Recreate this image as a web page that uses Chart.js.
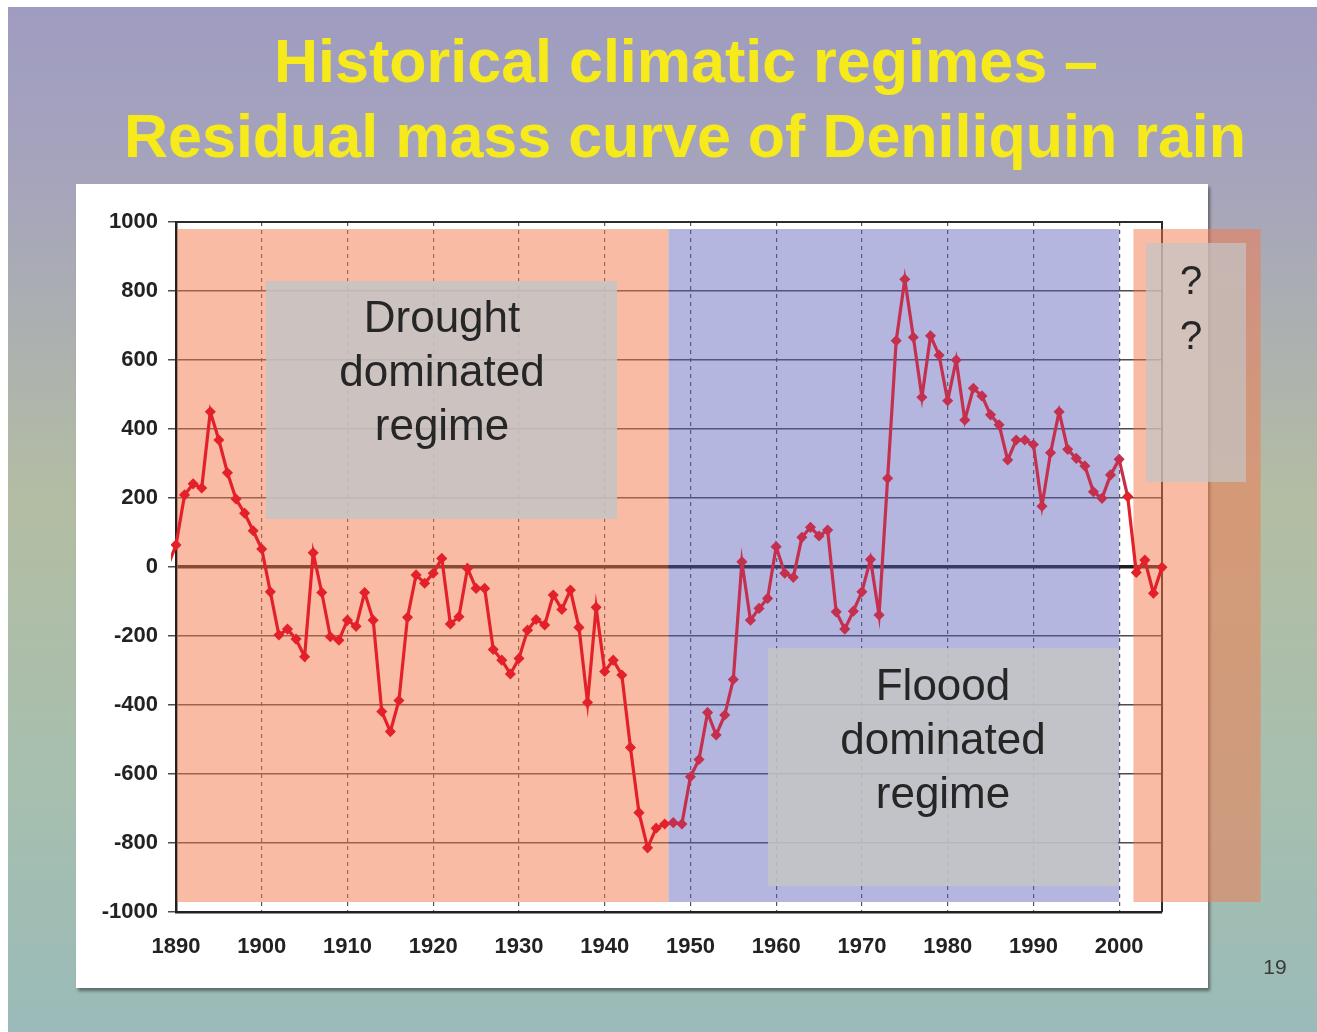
<!DOCTYPE html>
<html>
<head>
<meta charset="utf-8">
<script src="https://cdn.jsdelivr.net/npm/chart.js@4.4.1/dist/chart.umd.min.js"></script>
<style>
  html, body { margin: 0; padding: 0; background: #fff; overflow: hidden; }
  #wrap { width: 1317px; height: 1032px; position: relative; }
  canvas { display: block; }
</style>
</head>
<body>
<div id="wrap"><canvas id="chart" width="1317" height="1032"></canvas></div>
<script>
// Residual mass curve of annual rainfall at Deniliquin (cumulative departure from mean, mm)
const years = [
  1889, 1890, 1891, 1892, 1893, 1894, 1895, 1896, 1897, 1898, 1899,
  1900, 1901, 1902, 1903, 1904, 1905, 1906, 1907, 1908, 1909,
  1910, 1911, 1912, 1913, 1914, 1915, 1916, 1917, 1918, 1919,
  1920, 1921, 1922, 1923, 1924, 1925, 1926, 1927, 1928, 1929,
  1930, 1931, 1932, 1933, 1934, 1935, 1936, 1937, 1938, 1939,
  1940, 1941, 1942, 1943, 1944, 1945, 1946, 1947, 1948, 1949,
  1950, 1951, 1952, 1953, 1954, 1955, 1956, 1957, 1958, 1959,
  1960, 1961, 1962, 1963, 1964, 1965, 1966, 1967, 1968, 1969,
  1970, 1971, 1972, 1973, 1974, 1975, 1976, 1977, 1978, 1979,
  1980, 1981, 1982, 1983, 1984, 1985, 1986, 1987, 1988, 1989,
  1990, 1991, 1992, 1993, 1994, 1995, 1996, 1997, 1998, 1999,
  2000, 2001, 2002, 2003, 2004, 2005
];
const residual = [
  0, 64, 209, 241, 229, 450, 368, 273, 197, 156, 105,
  52, -72, -197, -180, -209, -260, 41, -74, -202, -212,
  -154, -172, -74, -154, -419, -477, -387, -146, -23, -47,
  -18, 25, -165, -144, -4, -62, -62, -239, -270, -310,
  -265, -183, -152, -168, -81, -123, -67, -175, -393, -117,
  -303, -270, -313, -523, -712, -814, -757, -745, -741, -745,
  -608, -558, -422, -487, -429, -326, 15, -154, -120, -91,
  59, -18, -30, 86, 115, 90, 107, -130, -180, -128,
  -72, 22, -139, 257, 656, 834, 666, 492, 670, 614,
  482, 600, 426, 518, 496, 441, 412, 310, 368, 368,
  355, 176, 331, 450, 341, 315, 293, 218, 199, 267,
  312, 204, -16, 20, -76, -1
];
const tickYears = [1890, 1900, 1910, 1920, 1930, 1940, 1950, 1960, 1970, 1980, 1990, 2000];
const titleLines = ['Historical climatic regimes \u2013', 'Residual mass curve of Deniliquin rain'];
const droughtLabel = ['Drought', 'dominated', 'regime'];
const floodLabel = ['Floood', 'dominated', 'regime'];
const unknownLabel = ['?', '?'];
const pageNumber = '19';

// regime periods shaded across the plot (years)
const droughtPeriods = [[1890, 1947.45], [2001.55, 2016.5]];
const floodPeriods = [[1947.45, 2000]];

const W = 1317, H = 1032;
const SANS = '"Liberation Sans", Arial, Helvetica, sans-serif';

const inFlood = x => x >= 1947.45 && x <= 2000.5;
const LINE_RED = '#e3212b';
const LINE_DARK = '#c4304e';

const slidePlugin = {
  id: 'slide',
  beforeDraw(chart) {
    const ctx = chart.ctx;
    ctx.save();
    ctx.fillStyle = '#ffffff';
    ctx.fillRect(0, 0, W, H);
    const g = ctx.createLinearGradient(0, 7, 0, H);
    g.addColorStop(0, '#9f9cc1');
    g.addColorStop(0.18, '#a6a5bb');
    g.addColorStop(0.48, '#b3bda3');
    g.addColorStop(0.75, '#a7bfae');
    g.addColorStop(1, '#9abbb9');
    ctx.fillStyle = g;
    ctx.fillRect(8, 7, W - 8, H - 7);

    // white chart panel with a soft drop shadow
    ctx.shadowColor = 'rgba(40,40,40,0.55)';
    ctx.shadowOffsetX = 2;
    ctx.shadowOffsetY = 3;
    ctx.shadowBlur = 3;
    ctx.fillStyle = '#ffffff';
    ctx.fillRect(76, 184, 1132, 804);
    ctx.restore();

    // slide title
    ctx.save();
    ctx.fillStyle = '#f6ea1a';
    ctx.font = 'bold 61px ' + SANS;
    ctx.textAlign = 'center';
    ctx.textBaseline = 'alphabetic';
    ctx.fillText(titleLines[0], 686, 82);
    ctx.fillText(titleLines[1], 685, 157);
    ctx.restore();
  },
  beforeDatasetsDraw(chart) {
    const ctx = chart.ctx;
    const a = chart.chartArea;
    const xs = chart.scales.x;
    ctx.save();
    // top and right frame of the plot
    ctx.strokeStyle = '#2b2b2b';
    ctx.lineWidth = 2;
    ctx.beginPath();
    ctx.moveTo(a.left, a.top);
    ctx.lineTo(a.right, a.top);
    ctx.lineTo(a.right, a.bottom);
    ctx.stroke();

    const top = a.top + 7, bottom = a.bottom - 10;
    ctx.fillStyle = 'rgba(245,120,75,0.5)';
    droughtPeriods.forEach(([f, t]) => {
      const x0 = xs.getPixelForValue(f), x1 = xs.getPixelForValue(t);
      ctx.fillRect(x0 + 1, top, x1 - x0 - 1, bottom - top);
    });
    ctx.fillStyle = 'rgba(89,93,187,0.45)';
    floodPeriods.forEach(([f, t]) => {
      const x0 = xs.getPixelForValue(f), x1 = xs.getPixelForValue(t);
      ctx.fillRect(x0, top, x1 - x0, bottom - top);
    });
    ctx.restore();
  },
  afterDraw(chart) {
    const ctx = chart.ctx;
    ctx.save();
    const box = (x, y, w, h, fill) => { ctx.fillStyle = fill; ctx.fillRect(x, y, w, h); };
    const lines = (arr, cx, y0, step) => {
      arr.forEach((s, i) => ctx.fillText(s, cx, y0 + i * step));
    };
    box(266, 281, 351, 238, 'rgba(196,196,196,0.87)');
    box(768, 648, 350, 238, 'rgba(196,196,196,0.87)');
    box(1146, 243, 100, 239, 'rgba(196,196,196,0.72)');

    ctx.fillStyle = '#262626';
    ctx.textAlign = 'center';
    ctx.textBaseline = 'alphabetic';
    ctx.font = '44px ' + SANS;
    lines(droughtLabel, 442, 332, 54);
    lines(floodLabel, 943, 700, 54);
    ctx.font = '40px ' + SANS;
    lines(unknownLabel, 1191, 294, 55);

    ctx.fillStyle = '#3a3a3a';
    ctx.font = '21px ' + SANS;
    ctx.textBaseline = 'middle';
    ctx.fillText(pageNumber, 1275, 968);
    ctx.restore();
  }
};

const points = years.map((y, i) => ({ x: y, y: residual[i] }));

new Chart(document.getElementById('chart'), {
  type: 'line',
  data: {
    datasets: [{
      label: 'Residual mass (mm)',
      data: points,
      borderWidth: 3.2,
      borderColor: LINE_RED,
      segment: {
        borderColor: c => inFlood((c.p0.parsed.x + c.p1.parsed.x) / 2) ? LINE_DARK : LINE_RED
      },
      pointStyle: 'rectRot',
      pointRadius: 4.5,
      pointBorderWidth: 1.5,
      pointBackgroundColor: c => inFlood(c.parsed ? c.parsed.x : 0) ? LINE_DARK : LINE_RED,
      pointBorderColor: c => inFlood(c.parsed ? c.parsed.x : 0) ? LINE_DARK : LINE_RED,
      tension: 0,
      clip: { left: 5, top: 12, right: 8, bottom: 12 }
    }]
  },
  options: {
    responsive: false,
    animation: false,
    devicePixelRatio: 1,
    layout: { padding: { left: 0, top: 222, right: 155, bottom: 0 } },
    plugins: {
      legend: { display: false },
      tooltip: { enabled: false },
      title: { display: false }
    },
    scales: {
      x: {
        type: 'linear',
        min: 1890,
        max: 2005,
        afterBuildTicks: s => { s.ticks = tickYears.map(v => ({ value: v })); },
        afterFit: s => { s.height = 120; },
        grid: {
          color: '#555555',
          lineWidth: 1.2,
          drawTicks: false
        },
        border: { display: true, color: '#222', width: 2.5, dash: [4, 4] },
        ticks: {
          padding: 22,
          color: '#222',
          font: { family: SANS, size: 22, weight: 'bold' },
          maxRotation: 0,
          autoSkip: false,
          callback: v => String(v)
        }
      },
      y: {
        min: -1000,
        max: 1000,
        afterFit: s => { s.width = 176; },
        grid: {
          color: c => (c.tick && c.tick.value === 0) ? '#1e1e1e' : '#4d4d4d',
          lineWidth: c => (c.tick && c.tick.value === 0) ? 3.5 : 1.5,
          tickColor: '#4d4d4d',
          tickWidth: 1.5,
          tickLength: 8
        },
        border: { display: true, color: '#222', width: 2.5 },
        ticks: {
          stepSize: 200,
          padding: 10,
          color: '#222',
          font: { family: SANS, size: 22, weight: 'bold' },
          callback: v => String(v)
        }
      }
    }
  },
  plugins: [slidePlugin]
});
</script>
</body>
</html>
